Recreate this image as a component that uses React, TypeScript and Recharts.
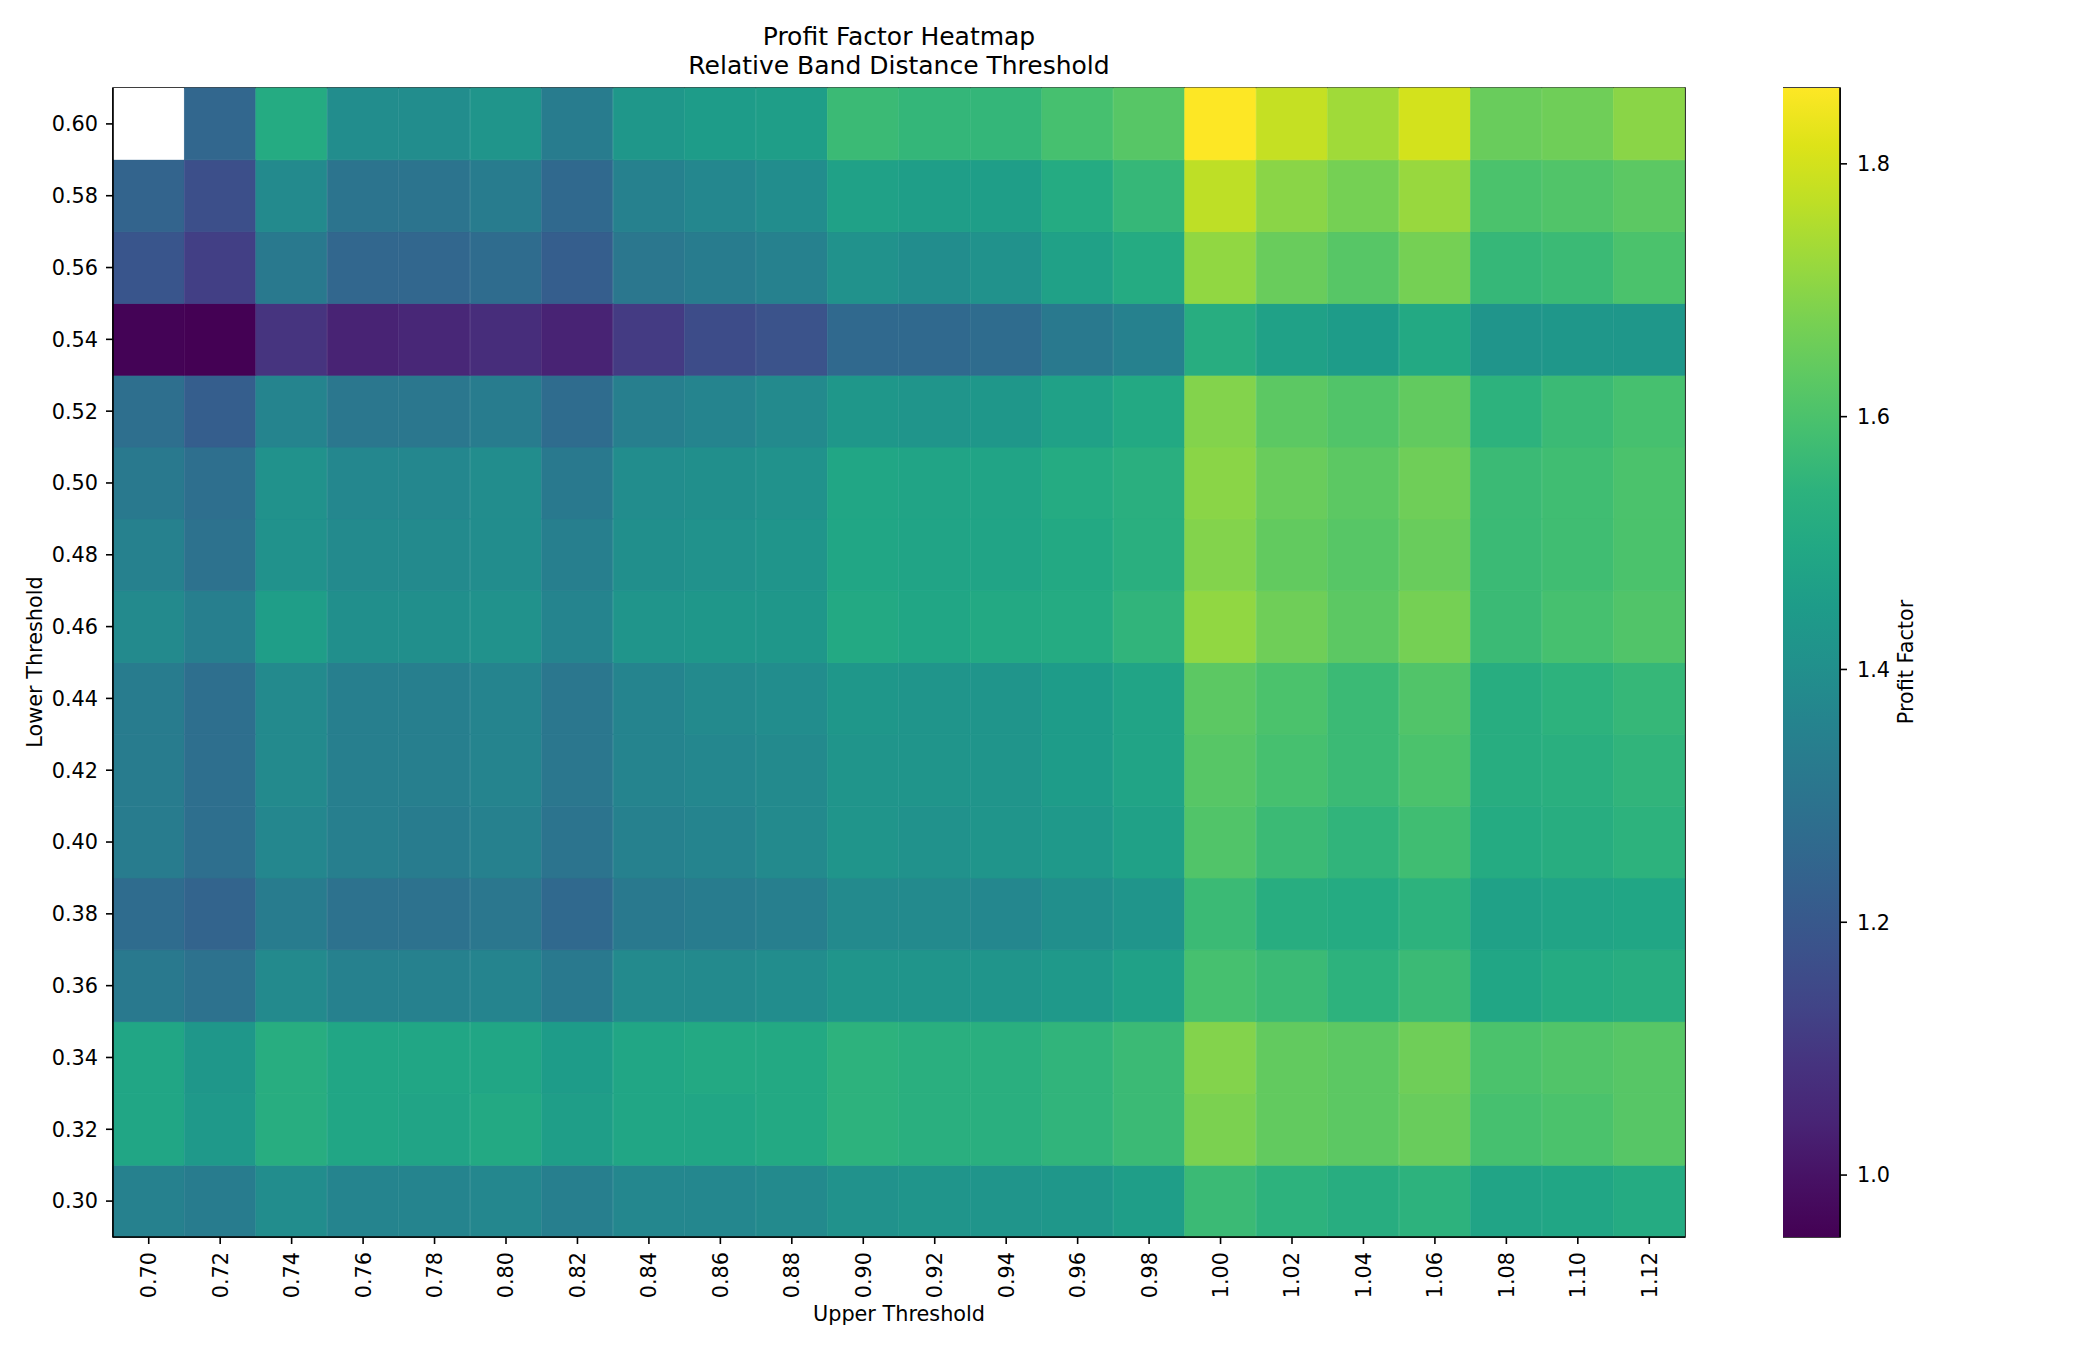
import { BarChart, Bar, XAxis, YAxis, Cell, ReferenceArea } from 'recharts';

// Upper threshold (x) and lower threshold (y) categories
const UPPER = [
  '0.70', '0.72', '0.74', '0.76', '0.78', '0.80', '0.82', '0.84', '0.86', '0.88', '0.90',
  '0.92', '0.94', '0.96', '0.98', '1.00', '1.02', '1.04', '1.06', '1.08', '1.10', '1.12',
];
const LOWER = [
  '0.30', '0.32', '0.34', '0.36', '0.38', '0.40', '0.42', '0.44',
  '0.46', '0.48', '0.50', '0.52', '0.54', '0.56', '0.58', '0.60',
];

// Profit factor per lower threshold, one value per upper threshold
const pf030 = [1.35, 1.33, 1.39, 1.36, 1.36, 1.37, 1.34, 1.37, 1.37, 1.38, 1.41, 1.42, 1.42, 1.43, 1.46, 1.57, 1.54, 1.52, 1.54, 1.48, 1.49, 1.51];
const pf032 = [1.49, 1.44, 1.52, 1.49, 1.48, 1.50, 1.46, 1.49, 1.49, 1.50, 1.54, 1.53, 1.53, 1.55, 1.57, 1.68, 1.64, 1.63, 1.65, 1.59, 1.60, 1.62];
const pf034 = [1.49, 1.43, 1.52, 1.49, 1.49, 1.49, 1.45, 1.49, 1.50, 1.50, 1.54, 1.53, 1.53, 1.55, 1.57, 1.69, 1.64, 1.63, 1.66, 1.60, 1.61, 1.62];
const pf036 = [1.32, 1.29, 1.38, 1.35, 1.35, 1.36, 1.32, 1.38, 1.38, 1.39, 1.42, 1.42, 1.42, 1.44, 1.47, 1.59, 1.57, 1.54, 1.57, 1.49, 1.51, 1.52];
const pf038 = [1.27, 1.24, 1.33, 1.29, 1.29, 1.31, 1.26, 1.32, 1.33, 1.34, 1.38, 1.38, 1.37, 1.40, 1.42, 1.57, 1.52, 1.51, 1.54, 1.47, 1.48, 1.49];
const pf040 = [1.33, 1.28, 1.37, 1.34, 1.33, 1.35, 1.30, 1.35, 1.36, 1.38, 1.42, 1.41, 1.42, 1.44, 1.47, 1.61, 1.57, 1.55, 1.58, 1.51, 1.52, 1.54];
const pf042 = [1.33, 1.28, 1.38, 1.34, 1.34, 1.36, 1.31, 1.36, 1.37, 1.38, 1.42, 1.42, 1.42, 1.45, 1.48, 1.62, 1.59, 1.57, 1.60, 1.52, 1.53, 1.55];
const pf044 = [1.33, 1.28, 1.38, 1.34, 1.34, 1.36, 1.31, 1.36, 1.38, 1.39, 1.43, 1.42, 1.42, 1.45, 1.48, 1.63, 1.60, 1.57, 1.61, 1.52, 1.54, 1.56];
const pf046 = [1.38, 1.34, 1.46, 1.40, 1.40, 1.41, 1.36, 1.42, 1.43, 1.43, 1.50, 1.49, 1.50, 1.51, 1.55, 1.71, 1.66, 1.63, 1.67, 1.57, 1.59, 1.61];
const pf048 = [1.35, 1.29, 1.41, 1.38, 1.38, 1.39, 1.34, 1.40, 1.41, 1.42, 1.49, 1.48, 1.48, 1.50, 1.53, 1.69, 1.64, 1.62, 1.65, 1.57, 1.58, 1.60];
const pf050 = [1.32, 1.28, 1.41, 1.37, 1.37, 1.39, 1.32, 1.39, 1.40, 1.41, 1.49, 1.48, 1.48, 1.51, 1.53, 1.70, 1.65, 1.63, 1.66, 1.57, 1.58, 1.60];
const pf052 = [1.28, 1.22, 1.36, 1.31, 1.31, 1.33, 1.27, 1.34, 1.36, 1.38, 1.43, 1.42, 1.43, 1.47, 1.50, 1.69, 1.63, 1.61, 1.64, 1.54, 1.57, 1.59];
const pf054 = [0.958, 0.951, 1.09, 1.04, 1.05, 1.07, 1.04, 1.11, 1.16, 1.18, 1.26, 1.26, 1.27, 1.32, 1.35, 1.52, 1.47, 1.45, 1.50, 1.42, 1.43, 1.43];
const pf056 = [1.19, 1.12, 1.32, 1.25, 1.25, 1.27, 1.22, 1.31, 1.33, 1.35, 1.41, 1.39, 1.41, 1.47, 1.51, 1.71, 1.65, 1.62, 1.67, 1.56, 1.57, 1.60];
const pf058 = [1.24, 1.17, 1.38, 1.30, 1.30, 1.33, 1.26, 1.35, 1.37, 1.39, 1.47, 1.46, 1.46, 1.51, 1.56, 1.77, 1.70, 1.67, 1.72, 1.60, 1.61, 1.63];
const pf060 = [null, 1.25, 1.51, 1.39, 1.39, 1.42, 1.33, 1.43, 1.45, 1.46, 1.57, 1.555, 1.555, 1.59, 1.62, 1.86, 1.78, 1.73, 1.80, 1.65, 1.66, 1.70];

// bottom (0.30) to top (0.60)
const ROWS: (number | null)[][] = [
  pf030, pf032, pf034, pf036, pf038, pf040, pf042, pf044,
  pf046, pf048, pf050, pf052, pf054, pf056, pf058, pf060,
];

const CB_TICKS = [1.0, 1.2, 1.4, 1.6, 1.8];

// viridis anchors, evenly spaced 0..1
const VIRIDIS = [
  '#440154', '#471164', '#482475', '#46337f', '#414487', '#3b528b', '#355f8d',
  '#2f6c8e', '#2a788e', '#25848e', '#21918c', '#1e9c89', '#22a884', '#2db27d',
  '#44bf70', '#5ec962', '#7ad151', '#9bd93c', '#bddf26', '#dde318', '#fde725',
];

function hexToRgb(h: string) {
  return [1, 3, 5].map((i) => parseInt(h.slice(i, i + 2), 16));
}

function viridis(t: number) {
  const c = Math.max(0, Math.min(1, t)) * (VIRIDIS.length - 1);
  const i = Math.min(Math.floor(c), VIRIDIS.length - 2);
  const f = c - i;
  const a = hexToRgb(VIRIDIS[i]);
  const b = hexToRgb(VIRIDIS[i + 1]);
  const rgb = a.map((v, k) => Math.round(v + (b[k] - v) * f));
  return `rgb(${rgb.join(',')})`;
}

const allValues = ROWS.flat().filter((v): v is number => v != null);
const VMIN = Math.min(...allValues);
const VMAX = Math.max(...allValues);

const colorFor = (v: number | null) =>
  v == null ? '#ffffff' : viridis((v - VMIN) / (VMAX - VMIN));

// one stacked column per upper threshold, one unit-high block per lower threshold
const chartData = UPPER.map((u) => {
  const row: Record<string, string | number> = { upper: u };
  ROWS.forEach((_, i) => {
    row[`r${i}`] = 1;
  });
  return row;
});

const FONT = '"DejaVu Sans", sans-serif';
const TICK_FS = 20.8;
const FRAME = { stroke: '#000', strokeWidth: 1.6 };

function UpperTick(props: any) {
  const { x, y, payload } = props;
  return (
    <text
      x={x}
      y={y}
      transform={`rotate(-90, ${x}, ${y})`}
      textAnchor="end"
      dy="0.36em"
      fontSize={TICK_FS}
      fontFamily={FONT}
      fill="#000"
    >
      {payload.value}
    </text>
  );
}

export default function App() {
  return (
    <div
      style={{
        position: 'absolute',
        left: 0,
        top: 0,
        width: 2100,
        height: 1350,
        background: '#fff',
        overflow: 'hidden',
        fontFamily: FONT,
      }}
    >
      <div style={{ position: 'absolute', left: 0, top: 0 }}>
        <BarChart
          width={1700}
          height={1350}
          data={chartData}
          margin={{ top: 88, right: 15, bottom: 0, left: 0 }}
          barCategoryGap={0}
          barGap={0}
        >
          <XAxis
            dataKey="upper"
            height={113}
            interval={0}
            tickSize={7}
            tickMargin={8}
            tickLine={FRAME}
            axisLine={FRAME}
            tick={UpperTick}
          />
          <YAxis
            type="number"
            domain={[0, LOWER.length]}
            ticks={LOWER.map((_, i) => i + 0.5)}
            tickFormatter={(v: number) => LOWER[Math.floor(v)]}
            interval={0}
            width={113}
            tickSize={7}
            tickMargin={8}
            tickLine={FRAME}
            axisLine={FRAME}
            tick={{ fill: '#000', fontSize: TICK_FS, fontFamily: FONT }}
          />
          {ROWS.map((vals, i) => (
            <Bar key={i} dataKey={`r${i}`} stackId="pf" isAnimationActive={false}>
              {vals.map((v, j) => (
                <Cell
                  key={j}
                  fill={colorFor(v)}
                  stroke={v == null ? 'none' : colorFor(v)}
                  strokeWidth={0.8}
                />
              ))}
            </Bar>
          ))}
          <ReferenceArea
            y1={0}
            y2={LOWER.length}
            fill="none"
            fillOpacity={0}
            stroke="#000"
            strokeWidth={1.6}
            ifOverflow="visible"
          />
        </BarChart>
      </div>

      <div style={{ position: 'absolute', left: 1783, top: 0 }}>
        <BarChart
          width={207}
          height={1350}
          data={[{ k: 'cb', range: [VMIN, VMAX] }]}
          margin={{ top: 88, right: 0, bottom: 113, left: 0 }}
          barCategoryGap={0}
        >
          <defs>
            <linearGradient id="viridisBar" x1="0" y1="1" x2="0" y2="0">
              {VIRIDIS.map((c, i) => (
                <stop key={i} offset={i / (VIRIDIS.length - 1)} stopColor={c} />
              ))}
            </linearGradient>
          </defs>
          <XAxis dataKey="k" hide />
          <YAxis
            orientation="right"
            type="number"
            domain={[VMIN, VMAX]}
            allowDataOverflow
            ticks={CB_TICKS}
            interval={0}
            tickFormatter={(v: number) => v.toFixed(1)}
            width={150}
            tickSize={7}
            tickMargin={10}
            tickLine={FRAME}
            axisLine={FRAME}
            tick={{ fill: '#000', fontSize: TICK_FS, fontFamily: FONT }}
          />
          <Bar dataKey="range" fill="url(#viridisBar)" isAnimationActive={false} />
          <ReferenceArea
            y1={VMIN}
            y2={VMAX}
            fill="none"
            fillOpacity={0}
            stroke="#000"
            strokeWidth={1.6}
            ifOverflow="visible"
          />
        </BarChart>
      </div>

      <svg
        width={2100}
        height={1350}
        style={{ position: 'absolute', left: 0, top: 0, pointerEvents: 'none' }}
        fontFamily={FONT}
        fill="#000"
      >
        <text x={899} y={45} textAnchor="middle" fontSize={25}>
          Profit Factor Heatmap
        </text>
        <text x={899} y={74} textAnchor="middle" fontSize={25}>
          Relative Band Distance Threshold
        </text>
        <text x={899} y={1321} textAnchor="middle" fontSize={TICK_FS}>
          Upper Threshold
        </text>
        <text
          x={42}
          y={662}
          textAnchor="middle"
          fontSize={TICK_FS}
          transform="rotate(-90, 42, 662)"
        >
          Lower Threshold
        </text>
        <text
          x={1913}
          y={662}
          textAnchor="middle"
          fontSize={TICK_FS}
          transform="rotate(-90, 1913, 662)"
        >
          Profit Factor
        </text>
      </svg>
    </div>
  );
}
